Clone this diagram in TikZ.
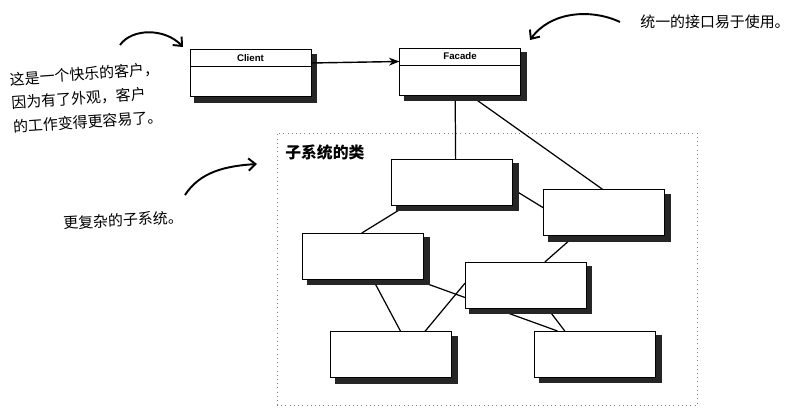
\documentclass[tikz,border=0pt]{standalone}
\usepackage{fontspec}
\setsansfont{Liberation Sans}
\newfontfamily\cjk{Noto Sans CJK SC}
\usetikzlibrary{arrows.meta,positioning,calc,backgrounds}

\tikzset{
  classbox/.style={draw, fill=white, line width=0.5pt, outer sep=0pt, inner sep=0pt,
    minimum width=2.42cm, minimum height=0.92cm},
  classhead/.style={classbox, minimum height=0.34cm, font=\sffamily\bfseries\fontsize{5.5}{6}\selectfont},
  classbody/.style={classbox, minimum height=0.6cm},
  boxshadow/.style={fill=black!85},
  link/.style={line width=0.7pt},
  note/.style={font=\cjk\fontsize{8.5}{13.6}\selectfont, inner sep=0pt},
  hand/.style={line width=1.1pt, -{Straight Barb[length=4pt,width=7pt]}}
}
\newcommand{\boxshade}[2]{%
  \fill[boxshadow] ([shift={(2.4pt,-3.6pt)}]#1.south west) rectangle ([shift={(3.6pt,-2.4pt)}]#2.north east);}

\begin{document}
\begin{tikzpicture}[x=0.02cm, y=-0.02cm]
  \useasboundingbox (0,0) rectangle (794,418);

  % Client and Facade
  \node[classhead] (clienth) at (250.5,58) {Client};
  \node[classbody, below=0pt of clienth] (clientb) {};
  \node[classhead] (facadeh) at (460,56.5) {Facade};
  \node[classbody, below=0pt of facadeh] (facadeb) {};
  \draw[line width=0.8pt, -{Stealth[length=6pt,width=4.5pt]}] ([yshift=-0.1cm]clienth.east) -- ([yshift=-0.1cm]facadeh.west);

  % Subsystem classes
  \node[classbox] (a) at (452,182) {};
  \node[classbox] (b) at (604,212.5) {};
  \node[classbox] (c) at (363,256) {};
  \node[classbox] (d) at (525.5,285) {};
  \node[classbox] (e) at (391,354.5) {};
  \node[classbox] (f) at (595,354) {};
  \node[note, font=\cjk\bfseries\fontsize{9}{10}\selectfont, anchor=west] (sublabel) at (285,152) {子系统的类};

  % Frame, links and shadows behind the boxes
  \begin{scope}[on background layer]
    \node[draw=gray, dotted, minimum width=8.4cm, minimum height=5.44cm] (subsys) at (487,269) {};
    \draw[link] ($(facadeb.south west)!.46!(facadeb.south east)$) -- ($(a.north west)!.53!(a.north east)$);
    \draw[link] ($(facadeb.south west)!.58!(facadeb.south east)$) -- ($(b.north west)!.49!(b.north east)$);
    \draw[link] ($(a.north east)!.65!(a.south east)$) -- ($(b.north west)!.4!(b.south west)$);
    \draw[link] ($(a.south west)!.13!(a.south east)$) -- ($(c.north west)!.49!(c.north east)$);
    \draw[link] ($(b.south west)!.26!(b.south east)$) -- ($(d.north west)!.66!(d.north east)$);
    \draw[link] ($(c.south west)!.58!(c.south east)$) -- ($(e.north west)!.58!(e.north east)$);
    \draw[link] ($(c.south west)!.92!(c.south east)$) -- ($(f.north west)!.19!(f.north east)$);
    \draw[link] ($(e.north west)!.78!(e.north east)$) -- ($(d.north west)!.46!(d.south west)$);
    \draw[link] ($(d.south west)!.68!(d.south east)$) -- ($(f.north west)!.25!(f.north east)$);
    \boxshade{clientb}{clienth}
    \boxshade{facadeb}{facadeh}
    \foreach \n in {a,b,c,d,e,f}
      \boxshade{\n}{\n};
  \end{scope}

  % Notes
  \node[note, align=left, rotate=4] (happy) at (86,98) {这是一个快乐的客户，\\ 因为有了外观，客户\\ 的工作变得更容易了。};
  \node[note] (easy) at (715,22) {统一的接口易于使用。};
  \node[note, rotate=3] (complex) at (123,220) {更复杂的子系统。};

  % Hand-drawn arrows
  \coordinate (h1s) at (120,45);
  \coordinate (h1e) at (183,47);
  \coordinate (h2s) at (620,22);
  \coordinate (h2e) at (530,40);
  \coordinate (h3s) at (185,195);
  \coordinate (h3e) at (257,164);
  \draw[hand] (h1s) .. controls (132,28) and (165,28) .. (h1e);
  \draw[hand] (h2s) .. controls (590,8) and (550,12) .. (h2e);
  \draw[hand] (h3s) .. controls (200,172) and (225,166) .. (h3e);
\end{tikzpicture}
\end{document}
